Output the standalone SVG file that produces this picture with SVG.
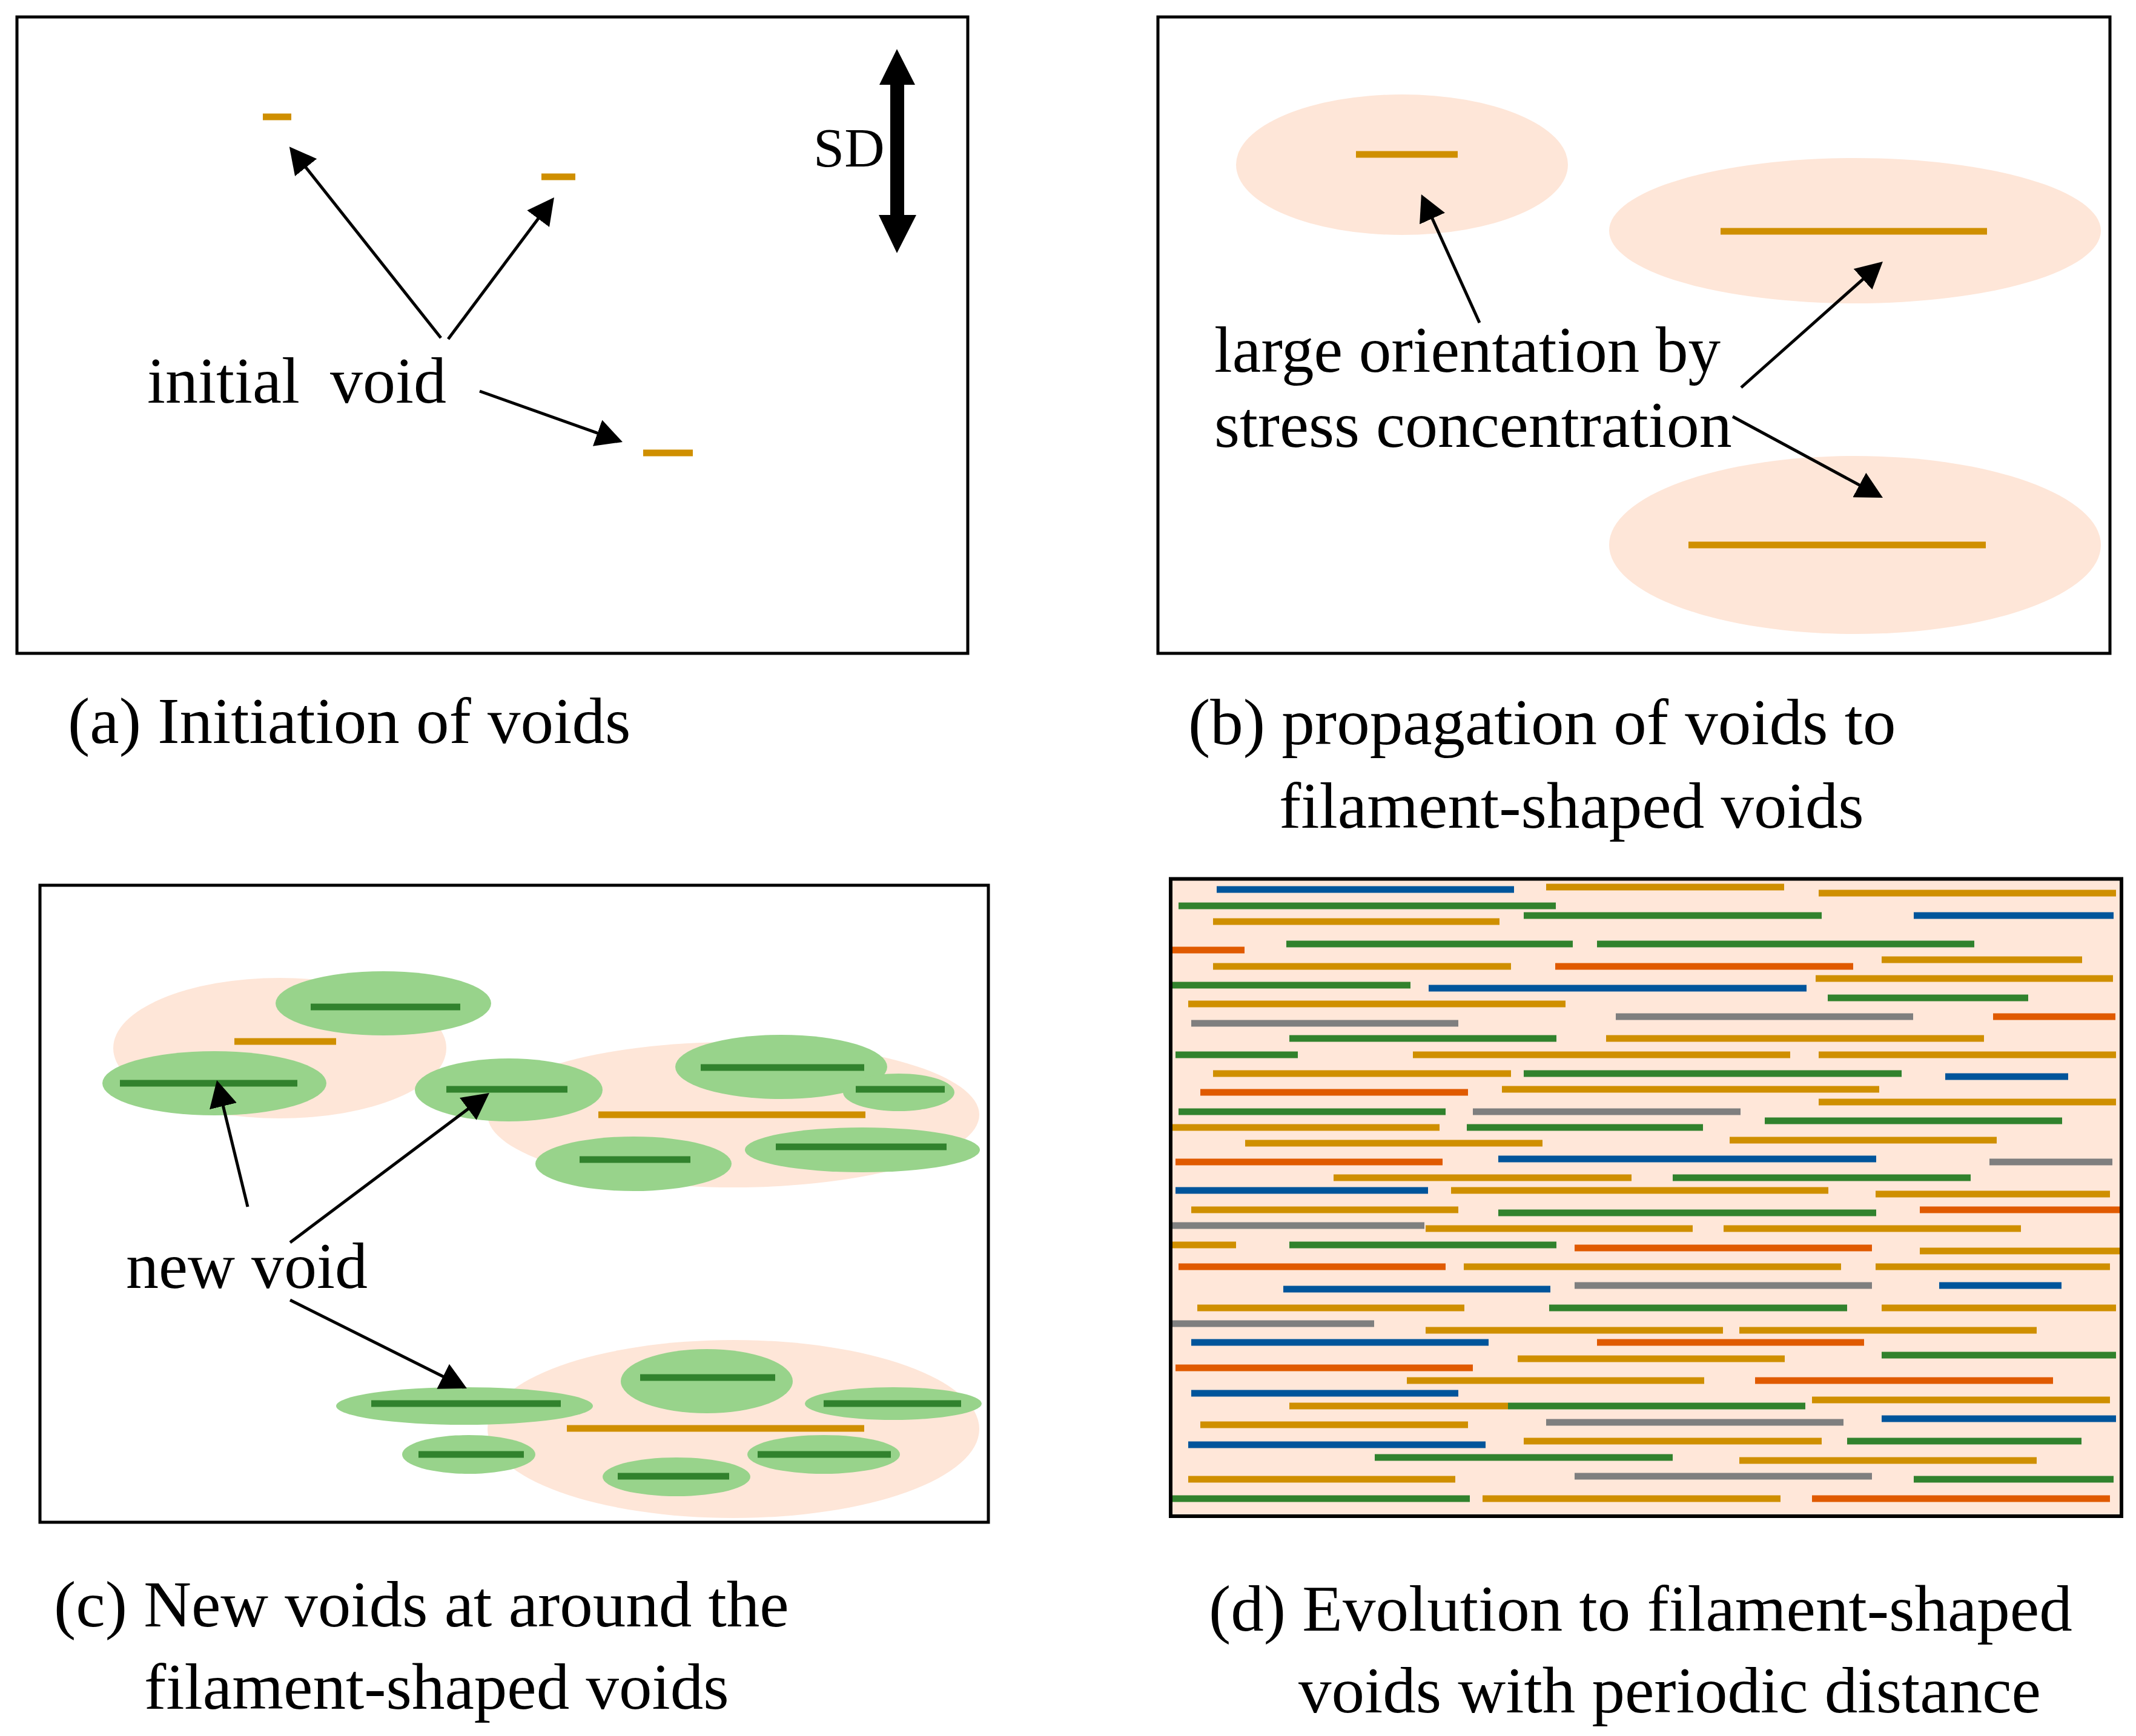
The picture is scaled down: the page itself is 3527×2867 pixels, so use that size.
<svg xmlns="http://www.w3.org/2000/svg" width="3527" height="2867" viewBox="0 0 3527 2867">
<defs>
<style>
.frame{fill:none;stroke:#000;stroke-width:5}
.void{stroke:#CF8F00;stroke-width:11}
.halo{fill:#FEE6D8}
.newhalo{fill:#98D38B}
.newvoid{stroke:#31822D;stroke-width:11}
.lbl{font-family:"Liberation Serif","Times New Roman",serif;fill:#000}
.arrow{stroke:#000;stroke-width:5;fill:none;marker-end:url(#ah)}
.fil line{stroke-width:11}
.o{stroke:#CF8F00}.g{stroke:#31822D}.b{stroke:#00559B}.r{stroke:#E05A00}.y{stroke:#7F7F7F}
</style>
<marker id="ah" markerUnits="userSpaceOnUse" markerWidth="44" markerHeight="46" viewBox="0 0 44 46" refX="34" refY="23" orient="auto"><path d="M0,0 L44,23 L0,46 z" fill="#000"/></marker>
</defs>
<rect width="3527" height="2867" fill="#fff"/>

<!-- Panel (a) -->
<g id="panel-a">
<rect class="frame" x="28" y="28" width="1570" height="1051"/>
<g id="a-void1"><line class="void" x1="434" y1="193" x2="481" y2="193"/></g>
<g id="a-void2"><line class="void" x1="894" y1="292" x2="950" y2="292"/></g>
<g id="a-void3"><line class="void" x1="1062" y1="748" x2="1144" y2="748"/></g>
<g id="a-label"><text class="lbl" x="243" y="665" font-size="108">initial <tspan x="545">void</tspan></text></g>
<g id="a-sd">
<path d="M1481,81 L1511,140 L1493,140 L1493,355 L1513,355 L1481,418 L1451,355 L1470,355 L1470,140 L1452,140 Z" fill="#000"/>
<text class="lbl" x="1343" y="275" font-size="92">SD</text>
</g>
<text class="lbl" x="112" y="1227" font-size="109">(a) Initiation of voids</text>
</g>

<!-- Panel (b) -->
<g id="panel-b">
<rect class="frame" x="1912" y="28" width="1572" height="1051"/>
<g id="b-void1"><ellipse class="halo" cx="2315" cy="272" rx="274" ry="116"/><line class="void" x1="2239" y1="255" x2="2407" y2="255"/></g>
<g id="b-void2"><ellipse class="halo" cx="3063" cy="381" rx="406" ry="120"/><line class="void" x1="2841" y1="382" x2="3281" y2="382"/></g>
<g id="b-void3"><ellipse class="halo" cx="3063" cy="900" rx="406" ry="147"/><line class="void" x1="2788" y1="900" x2="3279" y2="900"/></g>
<g id="b-label">
<text class="lbl" x="2005" y="614" font-size="107">large orientation by</text>
<text class="lbl" x="2005" y="738" font-size="108">stress concentration</text>
</g>
<text class="lbl" x="1962" y="1229" font-size="109">(b) propagation of voids to</text>
<text class="lbl" x="2112" y="1367" font-size="109">filament-shaped voids</text>
</g>

<!-- Panel (c) -->
<g id="panel-c">
<rect class="frame" x="66" y="1462" width="1566" height="1052"/>
<g id="c-group1">
<ellipse class="halo" cx="462" cy="1731" rx="275" ry="116"/>
<line class="void" x1="387" y1="1720" x2="555" y2="1720"/>
<g id="c-new1"><ellipse class="newhalo" cx="633" cy="1657" rx="178" ry="53"/><line class="newvoid" x1="513" y1="1663" x2="760" y2="1663"/></g>
<g id="c-new2"><ellipse class="newhalo" cx="354" cy="1789" rx="185" ry="53"/><line class="newvoid" x1="198" y1="1789" x2="491" y2="1789"/></g>
</g>
<g id="c-group2">
<ellipse class="halo" cx="1211" cy="1841" rx="406" ry="120"/>
<line class="void" x1="988" y1="1841" x2="1429" y2="1841"/>
<g id="c-new3"><ellipse class="newhalo" cx="840" cy="1800" rx="155" ry="52"/><line class="newvoid" x1="737" y1="1799" x2="937" y2="1799"/></g>
<g id="c-new4"><ellipse class="newhalo" cx="1290" cy="1762" rx="175" ry="53"/><line class="newvoid" x1="1157" y1="1763" x2="1427" y2="1763"/></g>
<g id="c-new5"><ellipse class="newhalo" cx="1484" cy="1804" rx="92" ry="31"/><line class="newvoid" x1="1413" y1="1799" x2="1560" y2="1799"/></g>
<g id="c-new6"><ellipse class="newhalo" cx="1046" cy="1922" rx="162" ry="45"/><line class="newvoid" x1="957" y1="1915" x2="1140" y2="1915"/></g>
<g id="c-new7"><ellipse class="newhalo" cx="1424" cy="1899" rx="194" ry="37"/><line class="newvoid" x1="1281" y1="1894" x2="1563" y2="1894"/></g>
</g>
<g id="c-group3">
<ellipse class="halo" cx="1211" cy="2360" rx="406" ry="147"/>
<line class="void" x1="936" y1="2359" x2="1427" y2="2359"/>
<g id="c-new8"><ellipse class="newhalo" cx="767" cy="2322" rx="212" ry="31"/><line class="newvoid" x1="613" y1="2318" x2="926" y2="2318"/></g>
<g id="c-new9"><ellipse class="newhalo" cx="1167" cy="2281" rx="142" ry="53"/><line class="newvoid" x1="1057" y1="2275" x2="1280" y2="2275"/></g>
<g id="c-new10"><ellipse class="newhalo" cx="1475" cy="2318" rx="146" ry="27"/><line class="newvoid" x1="1360" y1="2318" x2="1587" y2="2318"/></g>
<g id="c-new11"><ellipse class="newhalo" cx="774" cy="2402" rx="110" ry="32"/><line class="newvoid" x1="691" y1="2402" x2="865" y2="2402"/></g>
<g id="c-new12"><ellipse class="newhalo" cx="1360" cy="2402" rx="126" ry="32"/><line class="newvoid" x1="1251" y1="2402" x2="1471" y2="2402"/></g>
<g id="c-new13"><ellipse class="newhalo" cx="1117" cy="2439" rx="122" ry="32"/><line class="newvoid" x1="1020" y1="2438" x2="1204" y2="2438"/></g>
</g>
<g id="c-label"><text class="lbl" x="208" y="2127" font-size="108">new void</text></g>
<text class="lbl" x="89" y="2686" font-size="109">(c) New voids at around the</text>
<text class="lbl" x="238" y="2822" font-size="109">filament-shaped voids</text>
</g>

<!-- Panel (d) -->
<g id="panel-d">
<rect x="1933" y="1451.5" width="1570" height="1052.5" fill="#FFE7D9"/>
<g class="fil">
<line class="o" x1="2553" y1="1465" x2="2946" y2="1465"/>
<line class="o" x1="3003" y1="1475" x2="3494" y2="1475"/>
<line class="o" x1="2003" y1="1522" x2="2476" y2="1522"/>
<line class="o" x1="3107" y1="1585" x2="3438" y2="1585"/>
<line class="o" x1="2003" y1="1596" x2="2495" y2="1596"/>
<line class="o" x1="2998" y1="1616" x2="3489" y2="1616"/>
<line class="o" x1="1962" y1="1658" x2="2585" y2="1658"/>
<line class="o" x1="2652" y1="1715" x2="3276" y2="1715"/>
<line class="o" x1="2333" y1="1742" x2="2956" y2="1742"/>
<line class="o" x1="3003" y1="1742" x2="3494" y2="1742"/>
<line class="o" x1="2003" y1="1773" x2="2495" y2="1773"/>
<line class="o" x1="2480" y1="1799" x2="3103" y2="1799"/>
<line class="o" x1="3003" y1="1820" x2="3494" y2="1820"/>
<line class="o" x1="1935" y1="1862" x2="2377" y2="1862"/>
<line class="o" x1="2056" y1="1888" x2="2547" y2="1888"/>
<line class="o" x1="2856" y1="1883" x2="3297" y2="1883"/>
<line class="o" x1="2202" y1="1945" x2="2694" y2="1945"/>
<line class="o" x1="2396" y1="1966" x2="3019" y2="1966"/>
<line class="o" x1="3097" y1="1972" x2="3484" y2="1972"/>
<line class="o" x1="1967" y1="1998" x2="2408" y2="1998"/>
<line class="o" x1="2354" y1="2029" x2="2795" y2="2029"/>
<line class="o" x1="2846" y1="2029" x2="3337" y2="2029"/>
<line class="o" x1="1935" y1="2056" x2="2041" y2="2056"/>
<line class="o" x1="3170" y1="2066" x2="3500" y2="2066"/>
<line class="o" x1="2417" y1="2092" x2="3040" y2="2092"/>
<line class="o" x1="3097" y1="2092" x2="3484" y2="2092"/>
<line class="o" x1="1977" y1="2160" x2="2418" y2="2160"/>
<line class="o" x1="3107" y1="2160" x2="3494" y2="2160"/>
<line class="o" x1="2354" y1="2197" x2="2845" y2="2197"/>
<line class="o" x1="2872" y1="2197" x2="3363" y2="2197"/>
<line class="o" x1="2506" y1="2244" x2="2947" y2="2244"/>
<line class="o" x1="2323" y1="2280" x2="2814" y2="2280"/>
<line class="o" x1="2992" y1="2312" x2="3484" y2="2312"/>
<line class="o" x1="2129" y1="2322" x2="2490" y2="2322"/>
<line class="o" x1="1982" y1="2353" x2="2424" y2="2353"/>
<line class="o" x1="2516" y1="2380" x2="3008" y2="2380"/>
<line class="o" x1="2872" y1="2412" x2="3363" y2="2412"/>
<line class="o" x1="1962" y1="2443" x2="2403" y2="2443"/>
<line class="o" x1="2448" y1="2475" x2="2940" y2="2475"/>
<line class="g" x1="1946" y1="1496" x2="2569" y2="1496"/>
<line class="g" x1="2516" y1="1512" x2="3008" y2="1512"/>
<line class="g" x1="2124" y1="1559" x2="2597" y2="1559"/>
<line class="g" x1="2637" y1="1559" x2="3260" y2="1559"/>
<line class="g" x1="1935" y1="1627" x2="2329" y2="1627"/>
<line class="g" x1="3018" y1="1648" x2="3349" y2="1648"/>
<line class="g" x1="2129" y1="1715" x2="2570" y2="1715"/>
<line class="g" x1="1941" y1="1742" x2="2143" y2="1742"/>
<line class="g" x1="2516" y1="1773" x2="3140" y2="1773"/>
<line class="g" x1="1946" y1="1836" x2="2387" y2="1836"/>
<line class="g" x1="2914" y1="1851" x2="3405" y2="1851"/>
<line class="g" x1="2422" y1="1862" x2="2812" y2="1862"/>
<line class="g" x1="2762" y1="1945" x2="3254" y2="1945"/>
<line class="g" x1="2474" y1="2003" x2="3098" y2="2003"/>
<line class="g" x1="2129" y1="2056" x2="2570" y2="2056"/>
<line class="g" x1="2558" y1="2160" x2="3050" y2="2160"/>
<line class="g" x1="3107" y1="2238" x2="3494" y2="2238"/>
<line class="g" x1="2490" y1="2322" x2="2981" y2="2322"/>
<line class="g" x1="3050" y1="2380" x2="3437" y2="2380"/>
<line class="g" x1="2270" y1="2407" x2="2762" y2="2407"/>
<line class="g" x1="3160" y1="2443" x2="3490" y2="2443"/>
<line class="g" x1="1935" y1="2475" x2="2427" y2="2475"/>
<line class="b" x1="2009" y1="1469" x2="2500" y2="1469"/>
<line class="b" x1="3160" y1="1512" x2="3490" y2="1512"/>
<line class="b" x1="2359" y1="1632" x2="2983" y2="1632"/>
<line class="b" x1="3212" y1="1778" x2="3415" y2="1778"/>
<line class="b" x1="2474" y1="1914" x2="3098" y2="1914"/>
<line class="b" x1="1941" y1="1966" x2="2358" y2="1966"/>
<line class="b" x1="2119" y1="2129" x2="2560" y2="2129"/>
<line class="b" x1="3202" y1="2123" x2="3404" y2="2123"/>
<line class="b" x1="1967" y1="2217" x2="2458" y2="2217"/>
<line class="b" x1="1967" y1="2301" x2="2408" y2="2301"/>
<line class="b" x1="3107" y1="2343" x2="3494" y2="2343"/>
<line class="b" x1="1962" y1="2386" x2="2453" y2="2386"/>
<line class="r" x1="1935" y1="1569" x2="2055" y2="1569"/>
<line class="r" x1="2568" y1="1596" x2="3060" y2="1596"/>
<line class="r" x1="3291" y1="1679" x2="3493" y2="1679"/>
<line class="r" x1="1982" y1="1804" x2="2424" y2="1804"/>
<line class="r" x1="1941" y1="1919" x2="2382" y2="1919"/>
<line class="r" x1="3170" y1="1998" x2="3500" y2="1998"/>
<line class="r" x1="2600" y1="2061" x2="3091" y2="2061"/>
<line class="r" x1="1946" y1="2092" x2="2387" y2="2092"/>
<line class="r" x1="2637" y1="2217" x2="3078" y2="2217"/>
<line class="r" x1="1941" y1="2259" x2="2432" y2="2259"/>
<line class="r" x1="2898" y1="2280" x2="3390" y2="2280"/>
<line class="r" x1="2992" y1="2475" x2="3484" y2="2475"/>
<line class="y" x1="2668" y1="1679" x2="3159" y2="1679"/>
<line class="y" x1="1967" y1="1690" x2="2408" y2="1690"/>
<line class="y" x1="2432" y1="1836" x2="2874" y2="1836"/>
<line class="y" x1="3285" y1="1919" x2="3488" y2="1919"/>
<line class="y" x1="1935" y1="2024" x2="2352" y2="2024"/>
<line class="y" x1="2600" y1="2123" x2="3091" y2="2123"/>
<line class="y" x1="1935" y1="2186" x2="2269" y2="2186"/>
<line class="y" x1="2553" y1="2349" x2="3044" y2="2349"/>
<line class="y" x1="2600" y1="2438" x2="3091" y2="2438"/>
</g>
<rect x="1933" y="1451.5" width="1570" height="1052.5" fill="none" stroke="#000" stroke-width="6"/>
<text class="lbl" x="1996" y="2693" font-size="109">(d) Evolution to filament-shaped</text>
<text class="lbl" x="2144" y="2828" font-size="109">voids with periodic distance</text>
</g>

<!-- Connectors -->
<g id="connectors">
<line class="arrow" x1="728" y1="558" x2="484" y2="250"/>
<line class="arrow" x1="740" y1="560" x2="909" y2="334"/>
<line class="arrow" x1="792" y1="646" x2="1018.6" y2="726.6"/>
<line class="arrow" x1="2443" y1="533" x2="2351" y2="330"/>
<line class="arrow" x1="2875" y1="640" x2="3101.5" y2="438.6"/>
<line class="arrow" x1="2861" y1="688" x2="3100.2" y2="817.2"/>
<line class="arrow" x1="409" y1="1993" x2="360.4" y2="1793.7"/>
<line class="arrow" x1="479" y1="2052" x2="800" y2="1811"/>
<line class="arrow" x1="479" y1="2147" x2="762" y2="2288.5"/>
</g>
</svg>
